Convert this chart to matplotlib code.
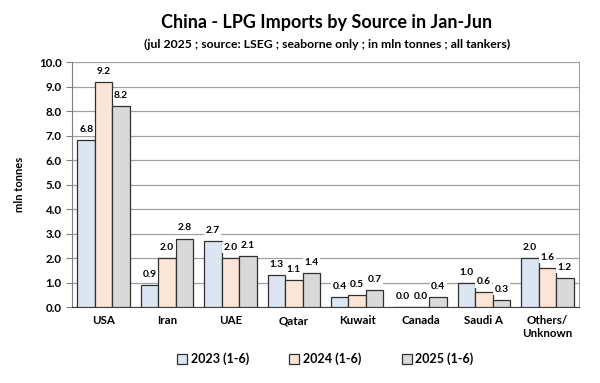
import numpy as np
import matplotlib.pyplot as plt

plt.rcParams['font.family'] = ['Lato', 'DejaVu Sans']

categories = ['USA', 'Iran', 'UAE', 'Qatar', 'Kuwait', 'Canada', 'Saudi A', 'Others/\nUnknown']
series_names = ['2023 (1-6)', '2024 (1-6)', '2025 (1-6)']
v2023 = [6.8, 0.9, 2.7, 1.3, 0.4, 0.0, 1.0, 2.0]
v2024 = [9.2, 2.0, 2.0, 1.1, 0.5, 0.0, 0.6, 1.6]
v2025 = [8.2, 2.8, 2.1, 1.4, 0.7, 0.4, 0.3, 1.2]
colors = ['#dce6f2', '#fbe5d6', '#d9d9d9']

fig = plt.figure(figsize=(6, 3.83), dpi=100)
ax = fig.add_axes([0.12, 0.198, 0.845, 0.64])

x = np.arange(len(categories))
w = 0.276
for i, (vals, name, c) in enumerate(zip([v2023, v2024, v2025], series_names, colors)):
    pos = x + (i - 1) * w
    ax.bar(pos, vals, width=w, color=c, edgecolor='#303030', linewidth=0.9,
           label=name, zorder=3)
    for px, v in zip(pos, vals):
        ax.text(px, v + 0.25, f'{v:.1f}', ha='center', va='bottom', fontsize=7.3,
                fontweight='bold', zorder=4,
                bbox=dict(facecolor='white', edgecolor='none', pad=1.0))

ax.set_xlim(-0.5, len(categories) - 0.5)
ax.set_ylim(0, 10)
ax.set_yticks(np.arange(0, 10.1, 1.0))
ax.set_yticklabels([f'{t:.1f}' for t in np.arange(0, 10.1, 1.0)], fontsize=8.3, fontweight='bold')
ax.set_xticks(x)
ax.set_xticklabels(categories, fontsize=8.3, fontweight='bold')
ax.tick_params(axis='x', length=0, pad=6)
ax.tick_params(axis='y', length=4, color='#808080')
ax.grid(axis='y', color='#a0a0a0', linewidth=0.9, zorder=0)
ax.spines['top'].set_visible(False)
ax.spines['right'].set_color('#a0a0a0')
ax.spines['left'].set_color('#808080')
ax.spines['bottom'].set_color('#404040')
ax.set_ylabel('mln tonnes', fontsize=8, fontweight='bold', labelpad=10)

fig.text(0.545, 0.94, 'China - LPG Imports by Source in Jan-Jun', ha='center', va='center',
         fontsize=13, fontweight='bold')
fig.text(0.545, 0.885, '(jul 2025 ; source: LSEG ; seaborne only ; in mln tonnes ; all tankers)',
         ha='center', va='center', fontsize=8.8, fontweight='bold')

leg = ax.legend(loc='upper center', bbox_to_anchor=(0.5, -0.14), ncol=3, frameon=False,
                handlelength=0.8, handleheight=0.8, columnspacing=3.2,
                handletextpad=0.3, prop={'weight': 'bold', 'size': 9})

fig.savefig('out.png', dpi=100)
